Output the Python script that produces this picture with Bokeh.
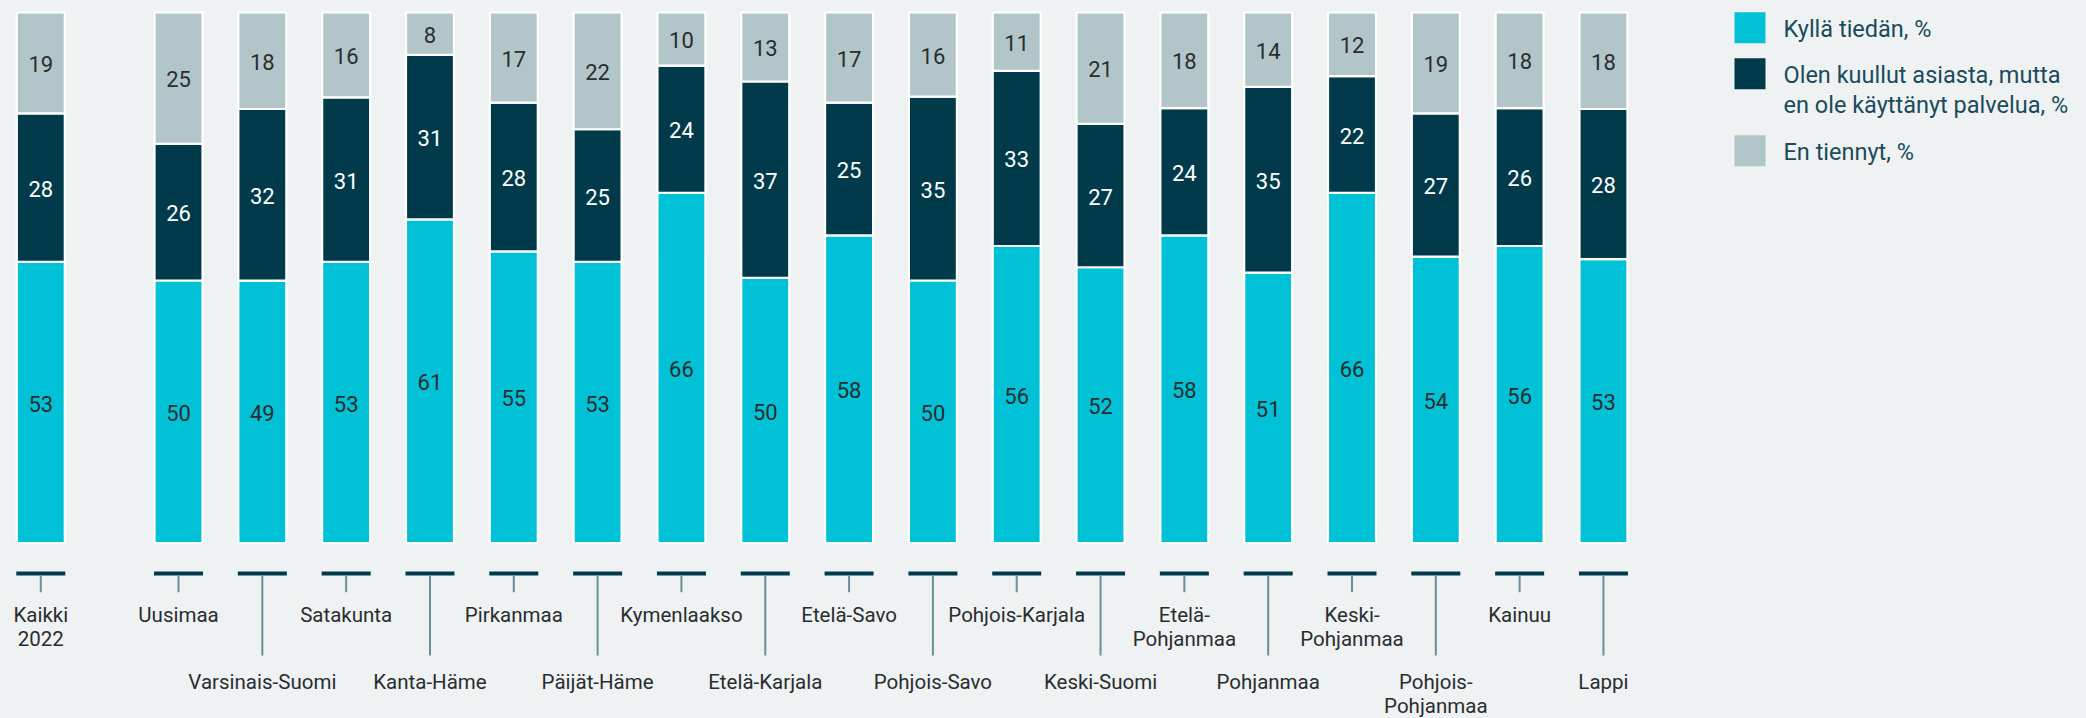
from bokeh.plotting import figure
from bokeh.models import Range1d
from bokeh.embed import file_html
from bokeh.resources import INLINE
from bokeh.core.properties import value

# ---------------- data ----------------
categories = ["Kaikki 2022", "Uusimaa", "Varsinais-Suomi", "Satakunta", "Kanta-Häme",
              "Pirkanmaa", "Päijät-Häme", "Kymenlaakso", "Etelä-Karjala", "Etelä-Savo",
              "Pohjois-Savo", "Pohjois-Karjala", "Keski-Suomi", "Etelä-Pohjanmaa",
              "Pohjanmaa", "Keski-Pohjanmaa", "Pohjois-Pohjanmaa", "Kainuu", "Lappi"]
tick_labels = ["Kaikki\n2022", "Uusimaa", "Varsinais-Suomi", "Satakunta", "Kanta-Häme",
               "Pirkanmaa", "Päijät-Häme", "Kymenlaakso", "Etelä-Karjala", "Etelä-Savo",
               "Pohjois-Savo", "Pohjois-Karjala", "Keski-Suomi", "Etelä-\nPohjanmaa",
               "Pohjanmaa", "Keski-\nPohjanmaa", "Pohjois-\nPohjanmaa", "Kainuu", "Lappi"]
kylla_tiedan = [53, 50, 49, 53, 61, 55, 53, 66, 50, 58, 50, 56, 52, 58, 51, 66, 54, 56, 53]
kuullut = [28, 26, 32, 31, 31, 28, 25, 24, 37, 25, 35, 33, 27, 24, 35, 22, 27, 26, 28]
en_tiennyt = [19, 25, 18, 16, 8, 17, 22, 10, 13, 17, 16, 11, 21, 18, 14, 12, 19, 18, 18]
series_names = ["Kyllä tiedän, %",
                "Olen kuullut asiasta, mutta\nen ole käyttänyt palvelua, %",
                "En tiennyt, %"]

# ---------------- style / layout ----------------
C_CYAN = "#00c1d5"
C_NAVY = "#013b4b"
C_GRAY = "#b2c6ca"
BG = "#eef2f3"
TXT = "#2a2d2f"
LEG_TXT = "#1b4a5a"
TICK_LINE = "#6b8f99"
FONT = "Roboto"

W, H = 2086, 718
STEP = 83.82          # px per category slot
X0PX = 40.3           # px of first bar centre
GAP = 1.643           # slot offset of first region after "Kaikki"
PCT = 5.307           # px per percent
BASE_PX = 542.7       # px from top of y = 0

xs0 = -X0PX / STEP
ys1 = BASE_PX / PCT
ys0 = -(H - BASE_PX) / PCT


def X(px):
    return xs0 + px / STEP


def Y(py):
    return ys1 - py / PCT


p = figure(width=W, height=H, output_backend="svg", toolbar_location=None,
           x_range=Range1d(xs0, xs0 + W / STEP), y_range=Range1d(ys0, ys1),
           min_border=0, background_fill_color=BG, border_fill_color=BG,
           outline_line_color=None)
p.axis.visible = False
p.grid.visible = False

n = len(categories)
xpos = [0.0] + [GAP + i for i in range(n - 1)]
tot = [a + b + c for a, b, c in zip(kylla_tiedan, kuullut, en_tiennyt)]
s1 = [a / t * 100 for a, t in zip(kylla_tiedan, tot)]
s2 = [s + b / t * 100 for s, b, t in zip(s1, kuullut, tot)]
s3 = [s + c / t * 100 for s, c, t in zip(s2, en_tiennyt, tot)]

bw = 48 / STEP
p.vbar(x=xpos, bottom=0, top=s1, width=bw, fill_color=C_CYAN, line_color="white", line_width=2.2)
p.vbar(x=xpos, bottom=s1, top=s2, width=bw, fill_color=C_NAVY, line_color="white", line_width=2.2)
p.vbar(x=xpos, bottom=s2, top=s3, width=bw, fill_color=C_GRAY, line_color="white", line_width=2.2)

common = dict(text_font=value(FONT), text_font_size="22px", text_align="center",
              text_baseline="middle", y_offset=1)
p.text(x=xpos, y=[v / 2 for v in s1], text=[str(v) for v in kylla_tiedan],
       text_color=TXT, **common)
p.text(x=xpos, y=[(a + b) / 2 for a, b in zip(s1, s2)], text=[str(v) for v in kuullut],
       text_color="white", **common)
p.text(x=xpos, y=[(a + b) / 2 for a, b in zip(s2, s3)], text=[str(v) for v in en_tiennyt],
       text_color=TXT, **common)

# ---------------- custom category axis ----------------
long_tick = [i >= 1 and (i % 2 == 0) for i in range(n)]
p.rect(x=xpos, y=Y(573), width=49, height=4, width_units="screen", height_units="screen",
       fill_color=C_NAVY, line_color=None)
p.segment(x0=xpos, y0=[Y(575)] * n, x1=xpos,
          y1=[Y(655) if lt else Y(591.7) for lt in long_tick],
          line_color=TICK_LINE, line_width=2)
p.text(x=xpos, y=[Y(669.5) if lt else Y(602) for lt in long_tick], text=tick_labels,
       text_font=value(FONT), text_font_size="20.5px", text_align="center",
       text_baseline="top", text_line_height=1.0, text_color=TXT)

# ---------------- legend ----------------
leg_sq_y = [27.3, 73.3, 150.3]
leg_txt_y = [14.4, 60.4, 137.7]
p.rect(x=[X(1749.5)] * 3, y=[Y(v) for v in leg_sq_y], width=31, height=31,
       width_units="screen", height_units="screen",
       fill_color=[C_CYAN, C_NAVY, C_GRAY], line_color=None)
p.text(x=[X(1783)] * 3, y=[Y(v) for v in leg_txt_y], text=series_names,
       text_font=value(FONT), text_font_size="23.5px", text_align="left",
       text_baseline="top", text_line_height=1.09, text_color=LEG_TXT)

html = file_html(p, INLINE)
html = html.replace("<head>", "<head><style>body{background:%s;}</style>" % BG, 1)
open("out.html", "w").write(html)
